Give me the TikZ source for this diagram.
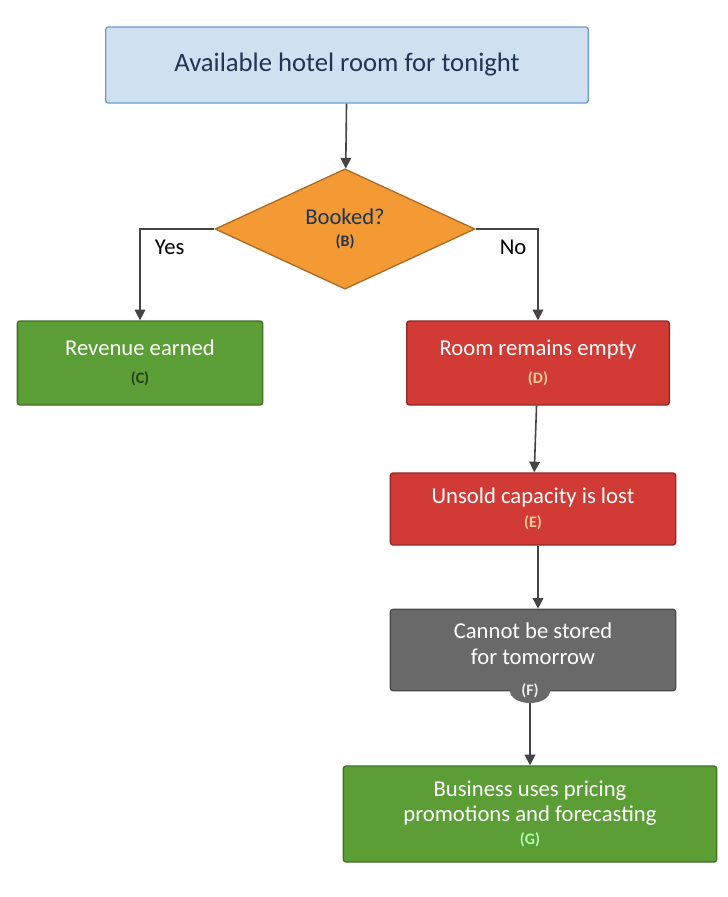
\documentclass[tikz,border=0pt]{standalone}
\usepackage{fontspec}
\setmainfont{Carlito}
\usetikzlibrary{shapes.geometric,arrows.meta}
\definecolor{boxblue}{HTML}{CFE1F0}
\definecolor{lineblue}{HTML}{6E9CC8}
\definecolor{textnavy}{HTML}{1F3552}
\definecolor{orng}{HTML}{F39A35}
\definecolor{grn}{HTML}{5C9E36}
\definecolor{rd}{HTML}{D13A35}
\definecolor{gry}{HTML}{696969}
\definecolor{arr}{HTML}{444444}
\newcommand\lettag{\bfseries\fontsize{12}{12}\selectfont}
\tikzset{
	box/.style={draw=#1!70!black,fill=#1,rounded corners=2pt,line width=1pt,
		text=white,align=center,font=\fontsize{17}{19}\selectfont},
	tag/.style={font=\lettag},
	pfeil/.style={-{Triangle[length=8pt,width=8pt]},draw=arr,line width=1.2pt},
}
\begin{document}
\begin{tikzpicture}[x=0.75pt,y=-0.75pt]
\useasboundingbox (0,0) rectangle (728,897);
% boxes
\node[box=boxblue,draw=lineblue,text=textnavy,minimum width=362pt,minimum height=57pt,
	font=\fontsize{20}{22}\selectfont] (A) at (347,65) {Available hotel room for tonight};
\node[diamond,draw=orng!70!black,fill=orng,line width=1pt,minimum width=195pt,minimum height=86pt,
	inner sep=0pt,text=textnavy,align=center,font=\fontsize{17}{19}\selectfont] (B) at (345,229)
	{Booked?\\[-2pt]{\lettag (B)}};
\node[box=grn,minimum width=184pt,minimum height=63pt] (C) at (140,363)
	{Revenue earned\\[2pt]{\lettag\color{grn!40!black}(C)}};
\node[box=rd,minimum width=197pt,minimum height=63pt] (D) at (538,363)
	{Room remains empty\\[2pt]{\lettag\color{orange!40}(D)}};
\node[box=rd,minimum width=214pt,minimum height=54pt] (E) at (533,509)
	{Unsold capacity is lost\\[-1pt]{\lettag\color{orange!40}(E)}};
\node[box=gry,minimum width=214pt,minimum height=61pt] (F) at (533,650)
	{Cannot be stored\\for tomorrow\\[-12pt]\phantom{(F)}};
\node[ellipse,fill=gry,minimum width=30pt,minimum height=18pt,inner sep=0pt,text=white!85!gray,tag]
	(Ft) at (530,691) {(F)};
\node[box=grn,minimum width=280pt,minimum height=72pt] (G) at (530,814)
	{Business uses pricing\\promotions and forecasting\\[-2pt]{\lettag\color{green!30!white}(G)}};
% connectors
\draw[pfeil] (A) -- (B);
\draw[pfeil] (B.west) -| (C.north) node[pos=0.3,below=4pt,text=black,font=\fontsize{17}{19}\selectfont] {Yes};
\draw[pfeil] (B.east) -| (D.north) node[pos=0.3,below=4pt,text=black,font=\fontsize{17}{19}\selectfont] {No};
\draw[pfeil] (D) -- (E);
\draw[pfeil] (E.south -| D) -- (F.north -| D);
\draw[pfeil] (Ft) -- (Ft |- G.north);
\end{tikzpicture}
\end{document}
